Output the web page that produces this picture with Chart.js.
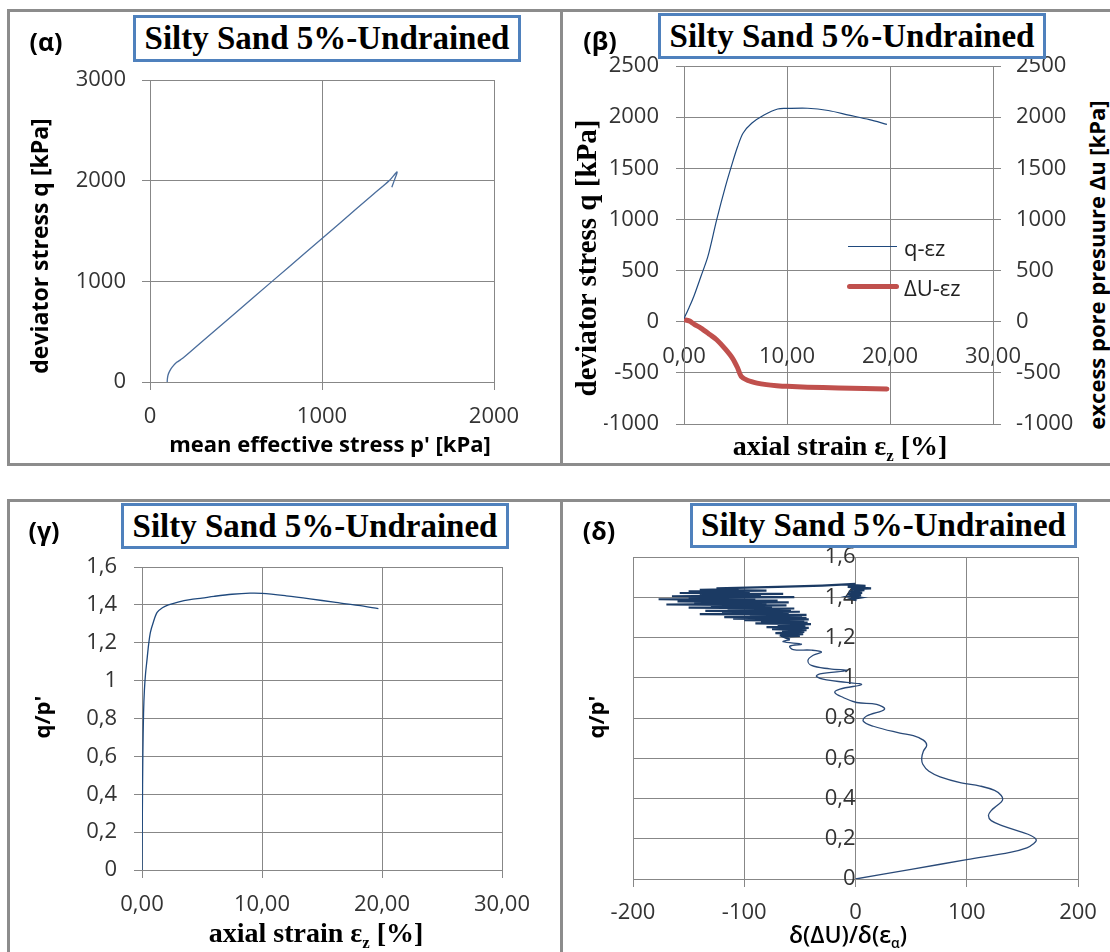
<!DOCTYPE html>
<html>
<head>
<meta charset="utf-8">
<script src="https://cdn.jsdelivr.net/npm/chart.js@4.4.1/dist/chart.umd.min.js"></script>
<style>
  body { margin: 0; background: #fff; width: 1110px; height: 952px; overflow: hidden; position: relative; font-family: "Open Sans", sans-serif; }
  .panel { position: absolute; box-sizing: border-box; border: 3px solid #8c8c8c; }
  canvas { position: absolute; }
  .box { position: absolute; box-sizing: border-box; border: 3px solid #4f81bd; background: #fff; font: bold 33px "Liberation Serif", serif; display: flex; align-items: center; justify-content: center; white-space: nowrap; color: #000; }
  .t { position: absolute; transform: translate(-50%, -50%); white-space: nowrap; color: #000; }
  .rot { transform: translate(-50%, -50%) rotate(-90deg); }
  .lab { font: bold 25px "Open Sans", sans-serif; }
  .sb { font: bold 22px "Open Sans", sans-serif; }
  .serif { font: bold 28px "Liberation Serif", serif; }
  .sub { font-size: 0.6em; vertical-align: -0.3em; }
  .leg { position: absolute; font: 22px "Open Sans", sans-serif; color: #222; transform: translateY(-50%); white-space: nowrap; }
</style>
</head>
<body>
<div class="panel" style="left:7px;top:9px;width:556px;height:457px"></div>
<div class="panel" style="left:560px;top:9px;width:560px;height:457px"></div>
<div class="panel" style="left:7px;top:499px;width:556px;height:470px"></div>
<div class="panel" style="left:560px;top:499px;width:560px;height:470px"></div>

<canvas id="cA" width="504" height="392" style="left:40px;top:40px"></canvas>
<canvas id="cB" width="469" height="438" style="left:604px;top:26px"></canvas>
<canvas id="cG" width="520" height="393" style="left:32px;top:527px"></canvas>
<canvas id="cD" width="545" height="412" style="left:583px;top:517px"></canvas>

<div class="box" style="left:133px;top:15px;width:388px;height:47px">Silty Sand 5%-Undrained</div>
<div class="box" style="left:658px;top:13px;width:388px;height:46px">Silty Sand 5%-Undrained</div>
<div class="box" style="left:121px;top:503px;width:388px;height:46px">Silty Sand 5%-Undrained</div>
<div class="box" style="left:690px;top:503px;width:387px;height:45px">Silty Sand 5%-Undrained</div>

<div class="t lab" style="left:46px;top:41px">(α)</div>
<div class="t lab" style="left:600px;top:40px">(β)</div>
<div class="t lab" style="left:44px;top:530px">(γ)</div>
<div class="t lab" style="left:599px;top:530px">(δ)</div>

<div class="t sb rot" style="left:39px;top:246px;font-size:23px">deviator stress q [kPa]</div>
<div class="t sb" style="left:330px;top:443px">mean effective stress p' [kPa]</div>

<div class="t rot" style="left:586px;top:258px;font:bold 29px 'Liberation Serif',serif">deviator stress q [kPa]</div>
<div class="t sb rot" style="left:1096px;top:265px">excess pore presuure Δu [kPa]</div>
<div class="t serif" style="left:840px;top:448px">axial strain ε<span class="sub">z</span> [%]</div>

<div class="t sb rot" style="left:41px;top:717px">q/p'</div>
<div class="t serif" style="left:316px;top:935px">axial strain ε<span class="sub">z</span> [%]</div>

<div class="t sb rot" style="left:595px;top:717px">q/p'</div>
<div class="t" style="left:848px;top:935px;font:600 23px 'Open Sans',sans-serif">δ(ΔU)/δ(ε<span class="sub">α</span>)</div>

<div style="position:absolute;left:848px;top:246px;width:49px;height:1.4px;background:#1f497d"></div>
<div class="leg" style="left:904px;top:247px">q-εz</div>
<div style="position:absolute;left:847px;top:284px;width:52px;height:5px;border-radius:3px;background:#c0504d"></div>
<div class="leg" style="left:904px;top:287px">ΔU-εz</div>

<script>
// (α) stress path
var pEff = [100, 101, 105, 115, 130, 155, 190, 300, 500, 715, 900, 1100, 1300, 1390, 1436, 1422, 1406];
var qDev = [0, 30, 70, 110, 150, 195, 235, 397, 691, 1007, 1279, 1573, 1867, 1999, 2086, 2010, 1935];

// (β) q and ΔU against axial strain
var strainQ = [0, 0.5, 0.95, 1.64, 2.32, 3.17, 4.02, 4.7, 5.2, 5.73, 6.57, 7.77, 9.1, 10, 12, 14, 16, 18, 19.7];
var qCurve = [30, 140, 247, 442, 638, 996, 1321, 1553, 1710, 1842, 1940, 2021, 2080, 2085, 2087, 2065, 2020, 1975, 1930];
var strainU = [0, 0.5, 1, 1.64, 2.5, 3.17, 4, 4.7, 5.2, 5.55, 6.2, 7.09, 8, 9, 10, 12, 15, 17.5, 19.7];
var duCurve = [20, 8, -25, -62, -125, -176, -265, -355, -450, -534, -575, -600, -615, -625, -632, -640, -648, -652, -657];

// (γ) stress ratio against axial strain
var strainR = [0, 0.03, 0.07, 0.13, 0.2, 0.3, 0.4, 0.55, 0.7, 0.95, 1.26, 1.7, 2.2, 3, 4, 5, 6, 7.5, 9, 10, 12, 14, 16, 18, 19.7];
var ratioR = [0, 0.3, 0.6, 0.83, 0.95, 1.04, 1.1, 1.19, 1.255, 1.31, 1.36, 1.385, 1.4, 1.415, 1.428, 1.436, 1.445, 1.456, 1.462, 1.461, 1.448, 1.432, 1.414, 1.397, 1.38];

// (δ) pore pressure rate against stress ratio, smooth lower part
var dudeLow = [0, 50, 100, 140, 154, 160, 162.5, 158, 148, 133, 122, 119.5, 122, 127, 132, 131, 125, 112, 95, 76,
  66, 60.5, 59.5, 61, 64, 61, 52, 40, 16, 7, 10, 26, 19, 1, -11, -18.6, -14, 5.4, -8, -26,
  -35, -32, -8, -23, -39.6, -42.7, -38, -30.6, -39.6, -56, -59, -48.6, -65, -59];
var ratioLow = [0, 0.048, 0.096, 0.134, 0.155, 0.175, 0.194, 0.215, 0.235, 0.263, 0.29, 0.315, 0.34, 0.364, 0.39, 0.415, 0.44, 0.462, 0.478, 0.508,
  0.535, 0.57, 0.6, 0.635, 0.665, 0.69, 0.712, 0.725, 0.759, 0.784, 0.81, 0.843, 0.868, 0.877, 0.902, 0.927, 0.944, 0.966, 0.977, 0.989,
  1.006, 1.019, 1.036, 1.044, 1.061, 1.087, 1.112, 1.128, 1.137, 1.14, 1.157, 1.167, 1.179, 1.19];
// noisy upper part
var dudeHigh = [-59, -65, -50, -68, -47, -72, -46, -66, -44, -75, -42, -80, -45, -70, -40, -90, -43, -85, -46, -100,
  -42, -110, -44, -118, -48, -95, -44, -140, -60, -120, -50, -135, -58, -115, -55, -150, -75, -130, -62, -170,
  -80, -145, -60, -160, -70, -177, -90, -150, -55, -165, -85, -140, -65, -158, -95, -150, -80, -140, -105, -125,
  -70, -30, 0, -6, 9, -7, 14, -4, 8, -6, 6, -7, 5, -5, 4, -3, 1];
var ratioHigh = [1.19, 1.204, 1.208, 1.212, 1.217, 1.222, 1.228, 1.232, 1.237, 1.242, 1.248, 1.252, 1.257, 1.261, 1.266, 1.270, 1.274, 1.278, 1.282, 1.286,
  1.290, 1.294, 1.298, 1.301, 1.305, 1.308, 1.312, 1.316, 1.320, 1.324, 1.328, 1.332, 1.336, 1.340, 1.344, 1.348, 1.352, 1.356, 1.360, 1.364,
  1.368, 1.371, 1.375, 1.379, 1.383, 1.390, 1.393, 1.397, 1.401, 1.405, 1.409, 1.413, 1.417, 1.421, 1.425, 1.429, 1.433, 1.437, 1.440, 1.444,
  1.452, 1.458, 1.466, 1.462, 1.457, 1.452, 1.444, 1.440, 1.435, 1.428, 1.422, 1.416, 1.410, 1.404, 1.398, 1.392, 1.386];

Chart.defaults.font.family = "'Open Sans', sans-serif";
Chart.defaults.font.size = 22;
Chart.defaults.color = '#333';

var gridCol = '#878787';

function pts(xs, ys) {
  return xs.map(function (x, i) { return { x: x, y: ys[i] }; });
}
function plain(v) { return String(v); }
function twoDec(v) { return v.toFixed(2).replace('.', ','); }
function oneDec(v) { return String(Math.round(v * 10) / 10).replace('.', ','); }

function line(data, color, width, tension, extra) {
  var ds = { data: data, showLine: true, borderColor: color, borderWidth: width, pointRadius: 0, tension: tension };
  for (var k in extra) ds[k] = extra[k];
  return ds;
}

function axis(min, max, step, fmt, pad, extra) {
  var a = {
    type: 'linear', min: min, max: max,
    ticks: { stepSize: step, callback: fmt, padding: pad },
    grid: { color: gridCol, tickLength: 8 },
    border: { color: gridCol }
  };
  for (var k in extra) a[k] = extra[k];
  return a;
}

var common = {
  responsive: false,
  animation: false,
  plugins: { legend: { display: false }, tooltip: { enabled: false } }
};

function opts(padding, scales) {
  return Object.assign({}, common, { layout: { padding: padding }, scales: scales });
}

new Chart(document.getElementById('cA'), {
  type: 'scatter',
  data: { datasets: [line(pts(pEff, qDev), '#4a6d9c', 1.3, 0.3)] },
  options: opts({ top: 40, right: 50, left: 0, bottom: 0 }, {
    x: axis(0, 2000, 1000, plain, 14, { afterFit: function (s) { s.height = 50; } }),
    y: axis(0, 3000, 1000, plain, 16, { afterFit: function (s) { s.width = 110; } })
  })
});

new Chart(document.getElementById('cB'), {
  type: 'scatter',
  data: {
    datasets: [
      line(pts(strainQ, qCurve), '#1f497d', 1.2, 0.3, { yAxisID: 'y' }),
      line(pts(strainU, duCurve), '#c0504d', 5, 0.3, { yAxisID: 'y1', borderCapStyle: 'round' })
    ]
  },
  options: opts({ top: 40, right: 0, left: 0, bottom: 40 }, {
    x: axis(0, 30, 10, twoDec, 14, { position: { y: 0 } }),
    y: axis(-1000, 2500, 500, plain, 17, { position: 'left', afterFit: function (s) { s.width = 80; } }),
    y1: axis(-1000, 2500, 500, plain, 15, {
      position: 'right',
      grid: { color: gridCol, tickLength: 8, drawOnChartArea: false },
      afterFit: function (s) { s.width = 80; }
    })
  })
});

new Chart(document.getElementById('cG'), {
  type: 'scatter',
  data: { datasets: [line(pts(strainR, ratioR), '#1f497d', 1.3, 0.3)] },
  options: opts({ top: 40, right: 50, left: 0, bottom: 0 }, {
    x: axis(0, 30, 10, twoDec, 14, { afterFit: function (s) { s.height = 50; } }),
    y: axis(0, 1.6, 0.2, oneDec, 17, { afterFit: function (s) { s.width = 110; } })
  })
});

new Chart(document.getElementById('cD'), {
  type: 'scatter',
  data: {
    datasets: [
      line(pts(dudeLow, ratioLow), '#2a4a78', 1.3, 0.4),
      line(pts(dudeHigh, ratioHigh), '#1b3a63', 2.2, 0)
    ]
  },
  options: opts({ top: 40, right: 50, left: 50, bottom: 0 }, {
    x: axis(-200, 200, 100, plain, 13, { afterFit: function (s) { s.height = 50; } }),
    y: axis(0, 1.6, 0.2, oneDec, 16, { position: { x: 0 }, z: 1 })
  })
});
</script>
</body>
</html>
